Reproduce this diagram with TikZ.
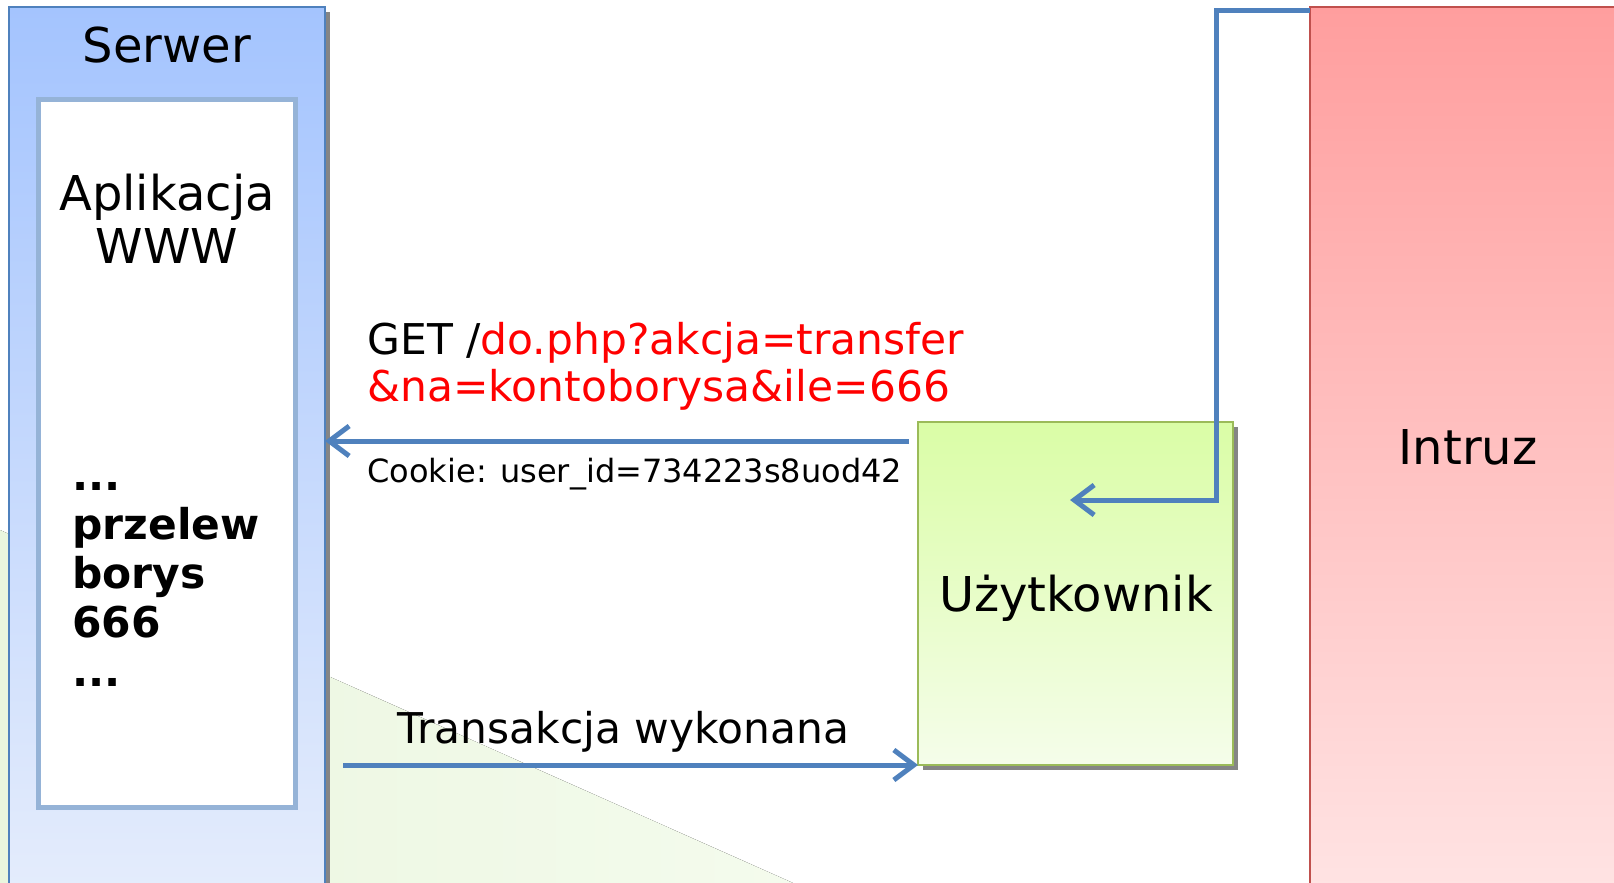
\documentclass[tikz,border=0pt]{standalone}
\usepackage{fontspec}
\setmainfont{DejaVu Sans}
\usetikzlibrary{arrows.meta,positioning,shadows}

\definecolor{strzalkablue}{HTML}{4F81BD}
\definecolor{serwertop}{HTML}{A4C4FE}
\definecolor{serwerbot}{HTML}{E4ECFC}
\definecolor{ramka}{HTML}{95B3D7}
\definecolor{usertop}{HTML}{DAFDA6}
\definecolor{userbot}{HTML}{F5FDEA}
\definecolor{userline}{HTML}{9BBB59}
\definecolor{intruztop}{HTML}{FF9E9E}
\definecolor{intruzbot}{HTML}{FFE3E3}
\definecolor{intruzline}{HTML}{C0504D}
\definecolor{tlolewy}{HTML}{EAF6DE}
\definecolor{tloprawy}{HTML}{F4FBED}
\definecolor{czerwony}{HTML}{FF0000}

\begin{document}
\begin{tikzpicture}[
        x=0.5pt, y=-0.5pt,
        pudlo/.style={rectangle, anchor=north west, inner sep=0pt, outer sep=0pt},
        cien/.style={drop shadow={shadow xshift=2.5pt, shadow yshift=-2.5pt, fill=black!48, opacity=1}},
        duzy/.style={font=\fontsize{24}{28}\selectfont, inner sep=0pt},
        sredni/.style={font=\fontsize{21.2}{24}\selectfont, inner sep=0pt},
        maly/.style={font=\fontsize{16}{19}\selectfont, inner sep=0pt},
        strzalka/.style={-{Straight Barb[length=10pt,width=15pt]}, line width=2.5pt, draw=strzalkablue}
    ]
        \useasboundingbox (0,0) rectangle (1614,883);
        % tlo slajdu
        \fill[left color=tlolewy, right color=tloprawy] (0,530) -- (793,883) -- (0,883) -- cycle;

        \node[pudlo, cien, top color=serwertop, bottom color=serwerbot, draw=strzalkablue, line width=0.75pt,
              minimum width=158pt, minimum height=440pt] (serwer) at (9,7) {};
        \node[duzy, below=9.75pt of serwer.north] (serwerlbl) {Serwer};
        \node[pudlo, fill=white, draw=ramka, line width=2.5pt,
              minimum width=128.5pt, minimum height=354pt] (aplikacja) at (38.5,99.5) {};
        \node[duzy, font=\fontsize{24}{26.5}\selectfont, align=center, below=37pt of aplikacja.north] (aplikacjalbl) {Aplikacja\\WWW};
        \node[sredni, font=\fontsize{21.2}{24.5}\selectfont\bfseries, align=left, anchor=north west] (przelew) at (72,482)
            {...\\przelew\\borys\\666\\...};

        \node[pudlo, cien, top color=usertop, bottom color=userbot, draw=userline, line width=1pt,
              minimum width=157.5pt, minimum height=171.5pt] (uzytkownik) at (918,422) {};
        \node[duzy] (uzytkowniklbl) at (1076,598) {Użytkownik};
        \node[pudlo, top color=intruztop, bottom color=intruzbot, draw=intruzline, line width=1pt,
              minimum width=158pt, minimum height=440pt, duzy] (intruz) at (1310,7) {Intruz};

        \node[sredni, font=\fontsize{21.2}{23.5}\selectfont, align=left, anchor=north west] (get) at (367,322)
            {GET /\textcolor{czerwony}{do.php?akcja=transfer}\\\textcolor{czerwony}{\&na=kontoborysa\&ile=666}};
        \node[maly, anchor=base west] (cookie) at (367,482) {Cookie: user\_id=734223s8uod42};
        \node[sredni, anchor=base west] (transakcja) at (397,743) {Transakcja wykonana};

        \coordinate (getstart) at (909,441);
        \coordinate (odpstart) at (343,765);
        \coordinate (zlom) at (1216,11);
        \coordinate (cel) at (1070,500);

        \draw[strzalka] (getstart) -- (getstart -| serwer.east);
        \draw[strzalka] (odpstart) -- (odpstart -| uzytkownik.west);
        \draw[strzalka] (zlom -| intruz.west) -- (zlom) |- (cel);
    \end{tikzpicture}
\end{document}
